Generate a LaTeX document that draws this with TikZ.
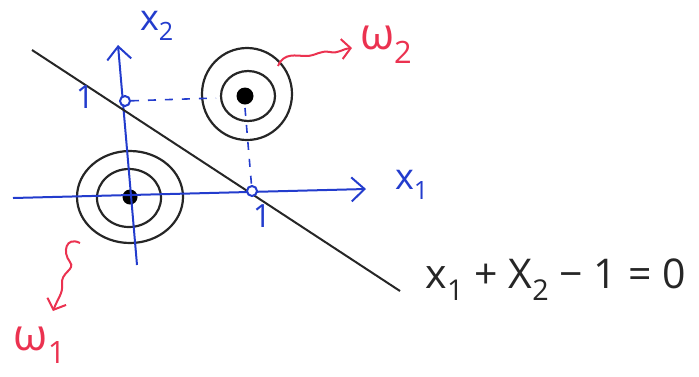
\documentclass[tikz,border=0pt]{standalone}
\usepackage{fontspec}
\setmainfont{Open Sans}
\usetikzlibrary{arrows.meta}
\definecolor{pen}{RGB}{35,60,205}
\definecolor{redpen}{RGB}{235,50,80}
\tikzset{
  axis/.style={draw=pen,line width=2pt,-{Straight Barb[length=13pt,width=24pt,line width=2pt]}},
  ring/.style={draw=black!85,line width=2.2pt},
  guide/.style={draw=pen,line width=1.6pt,dash pattern=on 8pt off 9pt},
  tick/.style={draw=pen,line width=2pt,fill=white,circle,inner sep=0pt,minimum size=10pt},
  lbl/.style={text=pen,inner sep=0pt,font=\fontsize{36}{36}\selectfont},
  cls/.style={text=redpen,inner sep=0pt,font=\fontsize{44}{44}\selectfont},
  squig/.style={draw=redpen,line width=2pt,-{Straight Barb[length=9pt,width=20pt,line width=2pt]}},
}
\begin{document}
\begin{tikzpicture}[x=1pt,y=-1pt]
\useasboundingbox (0,0) rectangle (699,376);
% clusters
\draw[ring] (130,197) ellipse [x radius=53,y radius=46];
\draw[ring] (129,198) ellipse [x radius=32,y radius=29];
\fill[black] (130,197) circle (7.5);
\draw[ring] (247,94) ellipse [x radius=45,y radius=46];
\draw[ring] (248,96) ellipse [x radius=27,y radius=25];
\fill[black] (245,96) circle (8.5);
% axes
\coordinate (xl) at (13,198);
\coordinate (xr) at (366,189);
\coordinate (yb) at (137,265);
\coordinate (yt) at (118,45);
\draw[axis] (xl) -- (xr);
\draw[axis] (yb) -- (yt);
% decision line
\coordinate (la) at (32,50);
\coordinate (lb) at (400,291);
\draw[line width=2pt,black!85] (la) -- (lb);
% guides
\coordinate (g1) at (216,98);
\coordinate (g2) at (245,108);
\node[tick] (p01) at (125,101) {};
\node[tick] (p10) at (252,191) {};
\draw[guide] (p01) -- (g1);
\draw[guide] (g2) -- (p10);
% labels
\node[lbl] (lx2) at (157,26) {x\textsubscript{2}};
\node[lbl] (lx1) at (412,185) {x\textsubscript{1}};
\node[lbl,font=\fontsize{32}{32}\selectfont] (l1a) at (85,97) {1};
\node[lbl,font=\fontsize{32}{32}\selectfont] (l1b) at (262,216) {1};
\node[cls,anchor=west] (w2) at (360,45) {ω\textsubscript{2}};
\node[cls] (w1) at (40,345) {ω\textsubscript{1}};
\node[font=\fontsize{41}{41}\selectfont,text=black!85,anchor=west] (eq) at (422,280) {x\textsubscript{1} + X\textsubscript{2} − 1 = 0};
% squiggles
\coordinate (s2) at (278,66);
\coordinate (t2) at (352,48);
\coordinate (s1) at (80,243);
\coordinate (t1) at (53,311);
\draw[squig] (s2) .. controls (284,52) and (296,56) .. (306,56)
  .. controls (316,56) and (320,50) .. (330,52) .. controls (338,54) and (342,49) .. (t2);
\draw[squig] (s1) .. controls (66,236) and (62,252) .. (70,262)
  .. controls (76,270) and (60,272) .. (62,285) .. controls (63,293) and (58,298) .. (t1);
\end{tikzpicture}
\end{document}
